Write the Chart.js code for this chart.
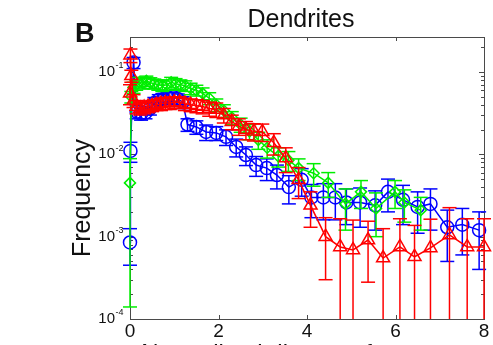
<!DOCTYPE html>
<html>
<head>
<meta charset="utf-8">
<script src="https://cdn.jsdelivr.net/npm/chart.js@4/dist/chart.umd.min.js"></script>
<style>
  html, body { margin: 0; padding: 0; background: #fff; }
  #wrap { width: 493px; height: 345px; }
</style>
</head>
<body>
<div id="wrap"><canvas id="chart" width="493" height="345"></canvas></div>
<script>
// blue circles
var blueX = [0, 0.01, 0.08, 0.15, 0.25, 0.35, 0.45, 0.55, 0.65, 0.75, 0.86, 0.97, 1.08, 1.19, 1.3, 1.5, 1.72, 1.95, 2.17, 2.4,
             2.62, 2.85, 3.09, 3.32, 3.59, 3.88, 4.1, 4.37, 4.64, 4.89, 5.2, 5.54, 5.83, 6.17, 6.5, 6.79, 7.17, 7.51, 7.89];
var blueY = [0.00085, 0.011, 0.13, 0.033, 0.031, 0.032, 0.036, 0.042, 0.046, 0.047, 0.049, 0.05, 0.047, 0.043, 0.023, 0.0215,
             0.0187, 0.0182, 0.0163, 0.0123, 0.0098, 0.0074, 0.0068, 0.0056, 0.004, 0.0049, 0.003, 0.003, 0.003, 0.0026,
             0.0026, 0.0024, 0.0035, 0.0028, 0.0023, 0.0025, 0.0013, 0.0014, 0.0012];
var blueErr = [0.0004, 0.003, 0.02, 0.006, 0.005, 0.005, 0.006, 0.007, 0.007, 0.007, 0.007, 0.007, 0.007, 0.007, 0.004, 0.004,
               0.004, 0.0035, 0.0035, 0.003, 0.0025, 0.002, 0.002, 0.0018, 0.0015, 0.0018, 0.0013, 0.0014, 0.0014, 0.0012,
               0.0013, 0.0012, 0.0015, 0.0014, 0.0012, 0.0013, 0.0008, 0.0008, 0.0008];

// green diamonds
var greenX = [0, 0.03, 0.08, 0.14, 0.21, 0.29, 0.37, 0.46, 0.55, 0.64, 0.73, 0.83, 0.93, 1.03, 1.14, 1.25, 1.37, 1.5, 1.64,
              1.79, 1.95, 2.12, 2.3, 2.5, 2.7, 2.9, 3.1, 3.35, 3.58, 3.81, 4.15, 4.48, 4.87, 5.22, 5.56, 5.99, 6.2, 6.57];
var greenY = [0.0045, 0.05, 0.065, 0.07, 0.075, 0.073, 0.078, 0.074, 0.072, 0.07, 0.068, 0.07, 0.075, 0.072, 0.07, 0.068,
              0.063, 0.06, 0.055, 0.048, 0.04, 0.034, 0.028, 0.023, 0.019, 0.015, 0.012, 0.0095, 0.0085, 0.0068, 0.0059,
              0.0045, 0.0025, 0.0035, 0.0022, 0.0035, 0.0026, 0.0021];
var greenErr = [0.00436, 0.008, 0.01, 0.01, 0.011, 0.011, 0.011, 0.011, 0.01, 0.01, 0.01, 0.01, 0.011, 0.011, 0.01, 0.01,
                0.01, 0.009, 0.009, 0.008, 0.007, 0.006, 0.005, 0.0045, 0.004, 0.0035, 0.003, 0.0025, 0.0023, 0.002,
                0.0018, 0.0015, 0.0013, 0.0013, 0.0012, 0.0013, 0.0011, 0.0009];

// red triangles
var redX = [0, 0.01, 0.03, 0.08, 0.15, 0.23, 0.32, 0.41, 0.5, 0.6, 0.7, 0.8, 0.9, 1.0, 1.12, 1.24, 1.37, 1.5, 1.64, 1.79,
            1.95, 2.12, 2.3, 2.46, 2.62, 2.8, 2.99, 3.25, 3.52, 3.81, 4.08, 4.42, 4.75, 5.04, 5.38, 5.72, 6.1, 6.43, 6.79,
            7.22, 7.62, 8.0];
var redY = [0.055, 0.16, 0.09, 0.045, 0.038, 0.036, 0.037, 0.038, 0.039, 0.040, 0.041, 0.042, 0.042, 0.043, 0.043, 0.041,
            0.04, 0.039, 0.038, 0.036, 0.035, 0.03, 0.0249, 0.022, 0.02, 0.019, 0.0188, 0.0138, 0.009, 0.0049, 0.0024,
            0.001, 0.00075, 0.00069, 0.00091, 0.00055, 0.00075, 0.00057, 0.00073, 0.00105, 0.00075, 0.00075];
var redErr = [0.015, 0.03, 0.015, 0.008, 0.007, 0.006, 0.006, 0.006, 0.006, 0.006, 0.007, 0.007, 0.007, 0.007, 0.007, 0.007,
              0.007, 0.007, 0.007, 0.007, 0.007, 0.006, 0.005, 0.005, 0.005, 0.0045, 0.0045, 0.004, 0.003, 0.002, 0.0011,
              0.0007, 0.0009, 0.0009, 0.00063, 0.0007, 0.0009, 0.0008, 0.0009, 0.0012, 0.0009, 0.0009];

var xTicks = [0, 2, 4, 6, 8];
var yDecades = [-4, -3, -2, -1];

var FONT = "'Liberation Sans', Arial, sans-serif";

function toPoints(xs, ys) {
    return xs.map(function (x, i) { return { x: x, y: ys[i] }; });
}

function line(ctx, x1, y1, x2, y2) {
    ctx.beginPath();
    ctx.moveTo(x1, y1);
    ctx.lineTo(x2, y2);
    ctx.stroke();
}

// matlab style box, inward ticks, error bars and the text around the axes
var matlabAxes = {
    id: 'matlabAxes',
    beforeDatasetsDraw: function (chart) {
        var ctx = chart.ctx, a = chart.chartArea;
        var xs = chart.scales.x, ys = chart.scales.y;
        ctx.save();
        ctx.strokeStyle = '#4a4a4a';
        ctx.lineWidth = 1;
        ctx.strokeRect(Math.round(a.left) + 0.5, Math.round(a.top) + 0.5,
                       Math.round(a.right - a.left), Math.round(a.bottom - a.top));
        xTicks.forEach(function (v) {
            if (v === xs.min || v === xs.max) return;
            var px = Math.round(xs.getPixelForValue(v)) + 0.5;
            line(ctx, px, a.bottom, px, a.bottom - 4);
            line(ctx, px, a.top, px, a.top + 4);
        });
        yDecades.forEach(function (d) {
            for (var m = 1; m <= 9; m++) {
                var v = m * Math.pow(10, d);
                if (v > ys.max) break;
                var py = Math.round(ys.getPixelForValue(v)) + 0.5;
                var len = m === 1 ? 5 : 3;
                line(ctx, a.left, py, a.left + len, py);
                line(ctx, a.right, py, a.right - len, py);
            }
        });
        ctx.restore();
    },
    afterDatasetDraw: function (chart, args) {
        var ds = chart.data.datasets[args.index];
        if (!ds.errors) return;
        var ctx = chart.ctx, a = chart.chartArea;
        var xs = chart.scales.x, ys = chart.scales.y;
        ctx.save();
        ctx.strokeStyle = ds.borderColor;
        ctx.lineWidth = 1.5;
        ds.data.forEach(function (p, i) {
            var e = ds.errors[i];
            var px = xs.getPixelForValue(p.x);
            var top = ys.getPixelForValue(p.y + e);
            var low = p.y - e > ys.min ? ys.getPixelForValue(p.y - e) : a.bottom;
            line(ctx, px, top, px, low);
            line(ctx, px - 7, top, px + 7, top);
            if (p.y - e > ys.min) line(ctx, px - 7, low, px + 7, low);
        });
        ctx.restore();
    },
    afterDraw: function (chart) {
        var ctx = chart.ctx, a = chart.chartArea, ys = chart.scales.y;
        ctx.save();
        ctx.fillStyle = '#111';
        ctx.textBaseline = 'middle';
        yDecades.forEach(function (d) {
            var py = ys.getPixelForValue(Math.pow(10, d));
            ctx.font = '15px ' + FONT;
            ctx.textAlign = 'right';
            ctx.fillText('10', 115, py);
            ctx.font = '9px ' + FONT;
            ctx.textAlign = 'left';
            ctx.fillText(String(d), 115.5, py - 6);
        });
        ctx.textBaseline = 'alphabetic';
        ctx.textAlign = 'center';
        ctx.font = '25px ' + FONT;
        ctx.fillText('Dendrites', 301, 27);
        ctx.font = 'bold 27px ' + FONT;
        ctx.textAlign = 'left';
        ctx.fillText('B', 75, 42);
        ctx.font = '24px ' + FONT;
        ctx.textAlign = 'center';
        ctx.fillText('Normalized distance from soma', 310, 361);
        ctx.translate(90, 198);
        ctx.rotate(-Math.PI / 2);
        ctx.font = '25px ' + FONT;
        ctx.fillText('Frequency', 0, 0);
        ctx.restore();
    }
};

function series(label, xs, ys, errs, color, style, radius) {
    return {
        label: label,
        data: toPoints(xs, ys),
        errors: errs,
        borderColor: color,
        backgroundColor: color,
        borderWidth: 1.5,
        pointStyle: style,
        pointRadius: radius,
        pointBorderWidth: 1.5,
        pointBackgroundColor: 'rgba(0,0,0,0)',
        pointBorderColor: color,
        tension: 0,
        clip: false
    };
}

new Chart('chart', {
    type: 'line',
    data: {
        datasets: [
            series('red', redX, redY, redErr, '#ff0000', 'triangle', 7.5),
            series('green', greenX, greenY, greenErr, '#00ee00', 'rectRot', 5.5),
            series('blue', blueX, blueY, blueErr, '#0000ff', 'circle', 6.5)
        ]
    },
    options: {
        responsive: false,
        animation: false,
        events: [],
        layout: { padding: { left: 0, right: 7, top: 37, bottom: 0 } },
        plugins: { legend: { display: false }, tooltip: { enabled: false }, title: { display: false } },
        scales: {
            x: {
                type: 'linear',
                min: 0,
                max: 8,
                grid: { display: false },
                border: { display: false },
                ticks: {
                    stepSize: 2,
                    padding: -7,
                    color: '#111',
                    font: { family: FONT, size: 19 },
                    maxRotation: 0
                },
                afterFit: function (s) { s.height = 26; }
            },
            y: {
                type: 'logarithmic',
                min: 0.0001,
                max: 0.266,
                grid: { display: false },
                border: { display: false },
                ticks: { display: false },
                afterFit: function (s) { s.width = 130; }
            }
        }
    },
    plugins: [matlabAxes]
});
</script>
</body>
</html>
